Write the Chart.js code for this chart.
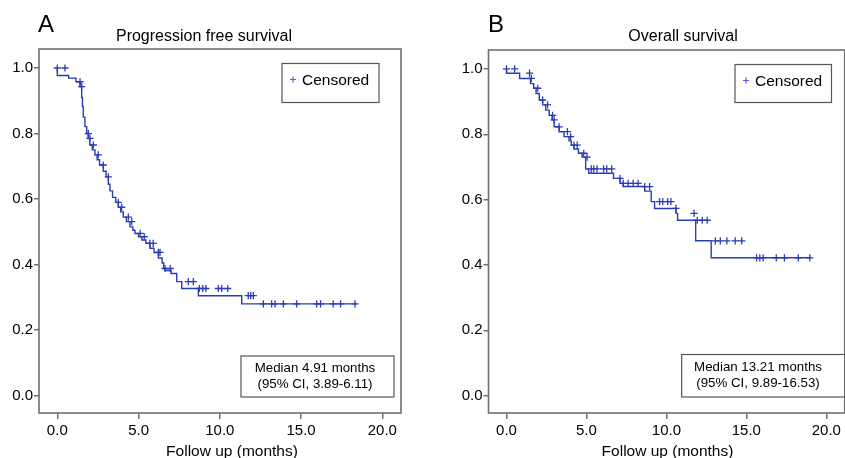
<!DOCTYPE html>
<html>
<head>
<meta charset="utf-8">
<script src="https://cdn.jsdelivr.net/npm/chart.js@4.4.1/dist/chart.umd.min.js"></script>
<style>
  html, body { margin: 0; padding: 0; background: #fff; overflow: hidden; }
  body { width: 845px; height: 458px; position: relative; }
  canvas { position: absolute; top: 0; }
  #chartA { left: 0; }
  #chartB { left: 450px; }
</style>
</head>
<body>
<canvas id="chartA" width="420" height="458"></canvas>
<canvas id="chartB" width="400" height="458"></canvas>
<script>
// ---- data ----
const xTicks = [0, 5, 10, 15, 20];
const yTicks = [0, 0.2, 0.4, 0.6, 0.8, 1.0];

// A: progression free survival, step points (event time, survival after it)
const pfsTime = [0, 0.7, 1.15, 1.4, 1.5, 1.55, 1.6, 1.7, 1.81, 1.9, 2.0, 2.15, 2.32, 2.45, 2.6, 2.83, 3.0, 3.14, 3.24, 3.4, 3.6, 3.75, 3.9, 4.06, 4.25, 4.47, 4.65, 4.78, 5.0, 5.2, 5.45, 5.7, 5.95, 6.22, 6.45, 6.55, 6.63, 7.0, 7.35, 7.66, 8.68, 11.35, 12.47, 18.42];
const pfsSurv = [1.0, 0.977, 0.969, 0.958, 0.943, 0.91, 0.882, 0.85, 0.821, 0.80, 0.785, 0.765, 0.750, 0.735, 0.72, 0.704, 0.685, 0.668, 0.645, 0.625, 0.605, 0.59, 0.575, 0.561, 0.545, 0.531, 0.515, 0.505, 0.495, 0.485, 0.475, 0.465, 0.45, 0.437, 0.42, 0.405, 0.388, 0.382, 0.373, 0.348, 0.327, 0.305, 0.28, 0.28];
const pfsCensor = [0, 0.47, 1.4, 1.5, 1.91, 2.01, 2.22, 2.52, 2.83, 3.14, 3.75, 3.96, 4.37, 4.58, 5.1, 5.35, 5.7, 5.9, 6.22, 6.32, 6.63, 6.95, 8.06, 8.37, 8.74, 8.95, 9.15, 9.91, 10.12, 10.49, 11.75, 11.9, 12.06, 12.68, 13.19, 13.4, 13.91, 14.73, 15.96, 16.2, 16.98, 17.43, 18.32];

// B: overall survival
const osTime = [0, 0.82, 1.5, 1.7, 1.85, 2.05, 2.26, 2.45, 2.67, 2.85, 2.98, 3.29, 3.6, 3.91, 4.05, 4.22, 4.5, 4.73, 4.95, 5.14, 6.69, 7.1, 7.3, 8.64, 9.05, 9.26, 10.6, 10.7, 11.83, 12.8, 14.85, 19.03];
const osSurv = [1.0, 0.987, 0.971, 0.955, 0.941, 0.925, 0.905, 0.89, 0.874, 0.858, 0.844, 0.823, 0.808, 0.793, 0.78, 0.767, 0.755, 0.742, 0.73, 0.694, 0.681, 0.665, 0.65, 0.640, 0.626, 0.594, 0.573, 0.558, 0.537, 0.474, 0.422, 0.422];
const osCensor = [0, 0.51, 1.44, 1.55, 1.95, 2.26, 2.57, 2.88, 2.98, 3.29, 3.81, 4.01, 4.22, 4.42, 4.83, 5.04, 5.3, 5.45, 5.66, 6.07, 6.27, 6.58, 7.1, 7.3, 7.61, 7.92, 8.23, 8.64, 8.95, 9.57, 9.77, 10.08, 10.28, 10.6, 11.73, 11.93, 12.24, 12.55, 13.06, 13.37, 13.78, 14.3, 14.71, 15.64, 15.84, 16.05, 16.87, 17.38, 18.25, 18.97];

const FONT = "'Liberation Sans', Arial, Helvetica, sans-serif";
const BLUE = '#2a3db5';
const GRAY = '#707070';

function survAt(times, surv, t) {
    let s = surv[0];
    for (let i = 0; i < times.length; i++) {
        if (times[i] <= t + 1e-9) s = surv[i];
    }
    return s;
}

// draws the frame, panel letter, titles and the two small boxes
const decor = {
    id: 'decor',
    beforeDatasetsDraw(chart, args, o) {
        const ctx = chart.ctx, a = chart.chartArea;
        ctx.save();
        ctx.strokeStyle = GRAY;
        ctx.lineWidth = 1.6;
        ctx.strokeRect(a.left, a.top, a.right - a.left, a.bottom - a.top);
        ctx.restore();
    },
    afterDraw(chart, args, o) {
        const ctx = chart.ctx;
        ctx.save();
        ctx.fillStyle = '#000';
        ctx.textBaseline = 'alphabetic';

        ctx.font = `24px ${FONT}`;
        ctx.textAlign = 'left';
        ctx.fillText(o.letter, o.letterX, 32);

        ctx.font = `16px ${FONT}`;
        ctx.textAlign = 'center';
        ctx.fillText(o.title, o.titleX, 41);

        ctx.font = `15.5px ${FONT}`;
        ctx.fillText('Follow up (months)', o.xTitleX, 456);

        // legend box
        const [lx, ly, lw, lh] = o.legendBox;
        ctx.fillStyle = '#fff';
        ctx.fillRect(lx, ly, lw, lh);
        ctx.strokeStyle = '#555';
        ctx.lineWidth = 1.2;
        ctx.strokeRect(lx, ly, lw, lh);
        ctx.strokeStyle = '#5a5ae0';
        ctx.lineWidth = 1.2;
        const px = lx + 11, py = ly + 16;
        ctx.beginPath();
        ctx.moveTo(px - 3, py); ctx.lineTo(px + 3, py);
        ctx.moveTo(px, py - 3); ctx.lineTo(px, py + 3);
        ctx.stroke();
        ctx.fillStyle = '#000';
        ctx.font = `15.5px ${FONT}`;
        ctx.textAlign = 'left';
        ctx.textBaseline = 'middle';
        ctx.fillText('Censored', lx + 20, ly + 17);

        // median box
        const [mx, my, mw, mh] = o.medianBox;
        ctx.fillStyle = '#fff';
        ctx.fillRect(mx, my, mw, mh);
        ctx.strokeStyle = '#555';
        ctx.strokeRect(mx, my, mw, mh);
        ctx.fillStyle = '#000';
        ctx.font = `13.3px ${FONT}`;
        ctx.textAlign = 'center';
        ctx.fillText(o.median[0], o.medianX, my + 12.5);
        ctx.fillText(o.median[1], o.medianX, my + 28.5);
        ctx.restore();
    }
};

function makeChart(id, times, surv, censor, top, deco) {
    const curve = times.map((t, i) => ({ x: t, y: surv[i] }));
    const marks = censor.map(t => ({ x: t, y: survAt(times, surv, t) }));
    return new Chart(document.getElementById(id), {
        type: 'line',
        data: {
            datasets: [{
                data: curve,
                stepped: 'after',
                borderColor: BLUE,
                borderWidth: 1.4,
                pointRadius: 0,
                fill: false
            }, {
                data: marks,
                showLine: false,
                pointStyle: 'cross',
                pointRadius: 3.6,
                borderColor: BLUE,
                borderWidth: 1.3
            }]
        },
        options: {
            responsive: false,
            animation: false,
            layout: { padding: { top: top, right: deco.padRight, left: 0, bottom: 0 } },
            plugins: { legend: { display: false }, title: { display: false }, tooltip: { enabled: false }, decor: deco },
            scales: {
                x: {
                    type: 'linear',
                    min: -1.126,
                    max: 21.15,
                    afterBuildTicks: s => { s.ticks = xTicks.map(v => ({ value: v })); },
                    afterFit: s => { s.height = 45; },
                    border: { display: false },
                    grid: { drawOnChartArea: false, tickLength: 6, color: GRAY, lineWidth: 1.5 },
                    ticks: {
                        callback: v => v.toFixed(1),
                        font: { family: FONT, size: 15 },
                        color: '#000',
                        padding: 3,
                        maxRotation: 0,
                        autoSkip: false
                    }
                },
                y: {
                    type: 'linear',
                    min: -0.053,
                    max: 1.058,
                    afterBuildTicks: s => { s.ticks = yTicks.map(v => ({ value: v })); },
                    afterFit: s => { s.width = deco.yWidth; },
                    border: { display: false },
                    grid: { drawOnChartArea: false, tickLength: 5, color: GRAY, lineWidth: 1.5 },
                    ticks: {
                        callback: v => v.toFixed(1),
                        font: { family: FONT, size: 15 },
                        color: '#000',
                        padding: 1
                    }
                }
            }
        },
        plugins: [decor]
    });
}

makeChart('chartA', pfsTime, pfsSurv, pfsCensor, 49, {
    letter: 'A', letterX: 38, title: 'Progression free survival', titleX: 204, xTitleX: 232,
    legendBox: [282, 63.5, 97, 39], medianBox: [241, 356, 153, 41],
    median: ['Median 4.91 months', '(95% CI, 3.89-6.11)'], medianX: 315,
    yWidth: 39, padRight: 19
});

makeChart('chartB', osTime, osSurv, osCensor, 50, {
    letter: 'B', letterX: 38, title: 'Overall survival', titleX: 233, xTitleX: 217.5,
    legendBox: [285, 64.5, 96.5, 38], medianBox: [231.7, 354.5, 163, 42.5],
    median: ['Median 13.21 months', '(95% CI, 9.89-16.53)'], medianX: 308,
    yWidth: 38.5, padRight: 1
});
</script>
</body>
</html>
